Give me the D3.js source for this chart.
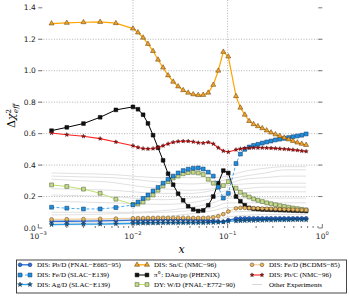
<!DOCTYPE html>
<html>
<head>
<meta charset="utf-8">
<title>delta chi2</title>
<script src="https://d3js.org/d3.v7.min.js"></script>
<style>
  body { margin: 0; background: #fff; }
</style>
</head>
<body>
<div id="my_dataviz"></div>
<script>

// x grid shared by all the experiment curves
var xGrid = [0.00138, 0.002, 0.003, 0.0045, 0.0066,
  0.0100, 0.0113, 0.0128, 0.0144, 0.0163, 0.0184, 0.0208, 0.0235, 0.0266, 0.0300,
  0.0339, 0.0383, 0.0433, 0.0489, 0.0552, 0.0624, 0.0705, 0.0796, 0.0900, 0.1016,
  0.1226, 0.1364, 0.1518, 0.1688, 0.1878, 0.2089, 0.2324, 0.2586, 0.2876, 0.320,
  0.356, 0.396, 0.441, 0.490, 0.545, 0.607, 0.675];

var snC = [1.300, 1.304, 1.308, 1.310, 1.302,
  1.268, 1.243, 1.210, 1.170, 1.125, 1.070, 1.020, 0.970, 0.930, 0.900,
  0.876, 0.860, 0.850, 0.845, 0.846, 0.860, 0.910, 1.000, 1.120, 1.090,
  0.838, 0.765, 0.720, 0.680, 0.660, 0.647, 0.634, 0.620, 0.607, 0.595,
  0.585, 0.574, 0.563, 0.553, 0.543, 0.535, 0.528];

var phenix = [0.619, 0.640, 0.664, 0.704, 0.751,
  0.770, 0.755, 0.720, 0.665, 0.590, 0.510, 0.430, 0.345, 0.275, 0.218,
  0.176, 0.138, 0.118, 0.108, 0.112, 0.145, 0.200, 0.285, 0.365, 0.350,
  0.200, 0.170, 0.145, 0.128, 0.122, 0.120, 0.118, 0.117, 0.116, 0.115,
  0.114, 0.113, 0.112, 0.111, 0.110, 0.109, 0.108];

var dyWD = [0.274, 0.264, 0.247, 0.221, 0.183,
  0.150, 0.152, 0.165, 0.190, 0.210, 0.240, 0.268, 0.295, 0.318, 0.330,
  0.345, 0.352, 0.354, 0.350, 0.340, 0.310, 0.285, 0.260, 0.270, 0.295,
  0.253, 0.227, 0.210, 0.197, 0.185, 0.176, 0.168, 0.160, 0.154, 0.148,
  0.142, 0.137, 0.132, 0.127, 0.123, 0.119, 0.115];

var feSlac = [0.132, 0.126, 0.121, 0.121, 0.130,
  0.147, 0.165, 0.188, 0.210, 0.235, 0.258, 0.285, 0.310, 0.330, 0.350,
  0.365, 0.374, 0.380, 0.382, 0.375, 0.355, 0.330, 0.260, 0.190, 0.220,
  0.410, 0.470, 0.500, 0.515, 0.525, 0.532, 0.540, 0.547, 0.553, 0.560,
  0.565, 0.570, 0.575, 0.580, 0.585, 0.590, 0.598];

var pbC = [0.604, 0.593, 0.583, 0.568, 0.547,
  0.523, 0.512, 0.505, 0.503, 0.505, 0.512, 0.523, 0.535, 0.545, 0.550,
  0.552, 0.552, 0.548, 0.542, 0.540, 0.545, 0.535, 0.510, 0.490, 0.483,
  0.498, 0.503, 0.507, 0.509, 0.510, 0.510, 0.510, 0.509, 0.508, 0.506,
  0.504, 0.502, 0.500, 0.497, 0.494, 0.490, 0.487];

var pbD = [0.042, 0.043, 0.044, 0.045, 0.047,
  0.050, 0.050, 0.051, 0.051, 0.052, 0.052, 0.053, 0.053, 0.053, 0.053,
  0.053, 0.052, 0.052, 0.051, 0.050, 0.048, 0.045, 0.042, 0.040, 0.050,
  0.060, 0.061, 0.062, 0.062, 0.062, 0.062, 0.062, 0.062, 0.062, 0.062,
  0.062, 0.062, 0.062, 0.062, 0.062, 0.062, 0.062];

var feBcdms = [0.055, 0.056, 0.057, 0.058, 0.060,
  0.062, 0.063, 0.063, 0.064, 0.064, 0.065, 0.065, 0.065, 0.065, 0.065,
  0.065, 0.065, 0.064, 0.064, 0.064, 0.065, 0.068, 0.075, 0.088, 0.105,
  0.125, 0.128, 0.128, 0.127, 0.126, 0.125, 0.124, 0.123, 0.122, 0.121,
  0.120, 0.119, 0.118, 0.117, 0.116, 0.115, 0.115];

var agD = [0.022, 0.023, 0.024, 0.025, 0.027,
  0.030, 0.030, 0.031, 0.031, 0.032, 0.032, 0.033, 0.033, 0.033, 0.033,
  0.033, 0.033, 0.033, 0.033, 0.033, 0.034, 0.035, 0.036, 0.038, 0.042,
  0.045, 0.046, 0.047, 0.048, 0.048, 0.049, 0.049, 0.050, 0.050, 0.050,
  0.051, 0.051, 0.051, 0.052, 0.052, 0.052, 0.052];

// the grey "other experiments" curves, on a coarser grid
var grayX = [0.00138, 0.003, 0.006, 0.01, 0.02, 0.04, 0.07, 0.1, 0.15, 0.25, 0.4, 0.675];
var grayCurves = [
  [0.350, 0.345, 0.340, 0.330, 0.320, 0.320, 0.320, 0.330, 0.360, 0.380, 0.390, 0.390],
  [0.330, 0.325, 0.320, 0.310, 0.290, 0.280, 0.290, 0.310, 0.330, 0.350, 0.370, 0.370],
  [0.310, 0.300, 0.290, 0.270, 0.250, 0.240, 0.250, 0.280, 0.310, 0.320, 0.330, 0.330],
  [0.250, 0.245, 0.240, 0.230, 0.220, 0.220, 0.240, 0.270, 0.280, 0.285, 0.285, 0.285],
  [0.210, 0.205, 0.200, 0.190, 0.180, 0.190, 0.210, 0.240, 0.250, 0.260, 0.260, 0.260],
  [0.170, 0.165, 0.160, 0.155, 0.150, 0.160, 0.190, 0.220, 0.225, 0.230, 0.230, 0.230],
  [0.100, 0.100, 0.100, 0.100, 0.110, 0.130, 0.160, 0.190, 0.190, 0.190, 0.190, 0.190],
  [0.083, 0.085, 0.090, 0.095, 0.100, 0.110, 0.130, 0.160, 0.160, 0.160, 0.160, 0.160],
  [0.050, 0.052, 0.055, 0.060, 0.070, 0.090, 0.110, 0.130, 0.130, 0.128, 0.127, 0.126],
  [0.035, 0.036, 0.038, 0.040, 0.050, 0.060, 0.080, 0.100, 0.105, 0.105, 0.104, 0.104],
  [0.030, 0.030, 0.030, 0.032, 0.035, 0.040, 0.050, 0.070, 0.080, 0.085, 0.085, 0.085],
  [0.020, 0.020, 0.021, 0.022, 0.025, 0.030, 0.035, 0.045, 0.050, 0.050, 0.050, 0.050]
];

var yTicks = [0.0, 0.2, 0.4, 0.6, 0.8, 1.0, 1.2, 1.4];
var xTicks = [1e-3, 1e-2, 1e-1, 1];
var xTickExp = ["\u22123", "\u22122", "\u22121", "0"];

var width = 349, height = 298;

var svg = d3.select("#my_dataviz")
  .append("svg")
    .attr("width", width)
    .attr("height", height);

var x = d3.scaleLog().domain([1e-3, 1]).range([38.3, 322.3]);
var y = d3.scaleLinear().domain([0, 1.4]).range([228, 7.8]);

var left = x.range()[0], right = x.range()[1], bottom = y.range()[0], top = y.range()[1];

// dotted grid
svg.selectAll(".gx").data([1e-2, 1e-1]).enter().append("line")
  .attr("x1", function(d) { return x(d); }).attr("x2", function(d) { return x(d); })
  .attr("y1", top).attr("y2", bottom)
  .attr("stroke", "#aaa").attr("stroke-width", 0.9).attr("stroke-dasharray", "1,1.6");
svg.selectAll(".gy").data(yTicks.slice(1, -1)).enter().append("line")
  .attr("x1", left).attr("x2", right)
  .attr("y1", function(d) { return y(d); }).attr("y2", function(d) { return y(d); })
  .attr("stroke", "#aaa").attr("stroke-width", 0.9).attr("stroke-dasharray", "1,1.6");

var plot = svg.append("g");

// other experiments
var grayLine = d3.line()
  .x(function(d, i) { return x(grayX[i]); })
  .y(function(d) { return y(d); })
  .curve(d3.curveMonotoneX);
plot.selectAll(".gray").data(grayCurves).enter().append("path")
  .attr("d", grayLine)
  .attr("fill", "none")
  .attr("stroke", "#d8d8d8")
  .attr("stroke-width", 0.8);

var series = [
  {name: "DIS: Pb/D (FNAL\u2212E665\u221295)", vals: pbD, sym: d3.symbolCircle, size: 11, fill: "#2a6fd6", edge: "#0a2560", line: "#2a6fd6", lw: 1.3, dash: null},
  {name: "DIS: Fe/D (SLAC\u2212E139)", vals: feSlac, sym: d3.symbolSquare, size: 15, fill: "#1e8fe0", edge: "#0a3560", line: "#4aa8f0", lw: 1, dash: "3,2"},
  {name: "DIS: Ag/D (SLAC\u2212E139)", vals: agD, sym: d3.symbolStar, size: 7, fill: "#1a5a8a", edge: "#0a3050", line: "#2aa0e8", lw: 1.3, dash: null},
  {name: "DIS: Sn/C (NMC\u221296)", vals: snC, sym: d3.symbolTriangle, size: 11, fill: "#f0a030", edge: "#5a3a00", line: "#ffa500", lw: 1.2, dash: null},
  {name: "\u03c0\u2070 :  DAu/pp (PHENIX)", vals: phenix, sym: d3.symbolSquare, size: 14, fill: "#111", edge: "#000", line: "#000", lw: 1, dash: null},
  {name: "DY: W/D (FNAL\u2212E772\u221290)", vals: dyWD, sym: d3.symbolSquare, size: 15, fill: "#c5d98a", edge: "#4a5a30", line: "#c0e070", lw: 1, dash: null},
  {name: "DIS: Fe/D (BCDMS\u221285)", vals: feBcdms, sym: d3.symbolCircle, size: 11, fill: "#e8b860", edge: "#5a4020", line: "#f0c88a", lw: 1, dash: null},
  {name: "DIS: Pb/C (NMC\u221296)", vals: pbC, sym: d3.symbolStar, size: 5, fill: "#8b1a1a", edge: "#5a0a0a", line: "#ff2020", lw: 1.1, dash: null}
];

var line = d3.line()
  .x(function(d, i) { return x(xGrid[i]); })
  .y(function(d) { return y(d); });

// draw order: low curves first so the big ones sit on top
var drawOrder = [4, 5, 1, 0, 2, 6, 7, 3];
drawOrder.forEach(function(k) {
  var s = series[k];
  var g = plot.append("g");
  g.append("path")
    .attr("d", line(s.vals))
    .attr("fill", "none")
    .attr("stroke", s.line)
    .attr("stroke-width", s.lw)
    .attr("stroke-dasharray", s.dash);
  g.selectAll("path.m").data(s.vals).enter().append("path")
    .attr("class", "m")
    .attr("transform", function(d, i) { return "translate(" + x(xGrid[i]) + "," + y(d) + ")"; })
    .attr("d", d3.symbol().type(s.sym).size(s.size))
    .attr("fill", s.fill)
    .attr("stroke", s.edge)
    .attr("stroke-width", 0.5);
});

// frame
svg.append("rect")
  .attr("x", left).attr("y", top)
  .attr("width", right - left).attr("height", bottom - top)
  .attr("fill", "none").attr("stroke", "#555").attr("stroke-width", 1.3);

// ticks (inside, matplotlib style)
var minor = [];
[1e-3, 1e-2, 1e-1].forEach(function(d) {
  for (var m = 2; m <= 9; m++) minor.push(d * m);
});
var tk = svg.append("g").attr("stroke", "#555").attr("stroke-width", 0.8);
xTicks.forEach(function(d) {
  tk.append("line").attr("x1", x(d)).attr("x2", x(d)).attr("y1", bottom).attr("y2", bottom - 4);
  tk.append("line").attr("x1", x(d)).attr("x2", x(d)).attr("y1", top).attr("y2", top + 4);
});
minor.forEach(function(d) {
  tk.append("line").attr("x1", x(d)).attr("x2", x(d)).attr("y1", bottom).attr("y2", bottom - 2);
  tk.append("line").attr("x1", x(d)).attr("x2", x(d)).attr("y1", top).attr("y2", top + 2);
});
yTicks.forEach(function(d) {
  tk.append("line").attr("x1", left).attr("x2", left + 4).attr("y1", y(d)).attr("y2", y(d));
  tk.append("line").attr("x1", right).attr("x2", right - 4).attr("y1", y(d)).attr("y2", y(d));
});

// tick labels
svg.selectAll(".yl").data(yTicks).enter().append("text")
  .attr("x", left - 2.5)
  .attr("y", function(d) { return y(d); })
  .attr("dy", "0.35em")
  .attr("text-anchor", "end")
  .style("font-family", "DejaVu Sans")
  .style("font-size", "7.5px")
  .attr("fill", "#222")
  .text(function(d) { return d3.format(".1f")(d); });

xTicks.forEach(function(d, i) {
  var t = svg.append("text")
    .attr("x", x(d))
    .attr("y", 238.5)
    .attr("text-anchor", "middle")
    .style("font-family", "DejaVu Sans")
    .style("font-size", "7.5px")
    .attr("fill", "#222");
  t.append("tspan").text("10");
  t.append("tspan").attr("dy", -3.5).style("font-size", "5.2px").text(xTickExp[i]);
});

// axis titles
svg.append("text")
  .attr("x", 181.5).attr("y", 253)
  .attr("text-anchor", "middle")
  .style("font-family", "DejaVu Serif")
  .style("font-style", "italic")
  .style("font-size", "11px")
  .text("x");

var yl = svg.append("text")
  .attr("transform", "translate(15,116) rotate(-90)")
  .attr("text-anchor", "middle")
  .style("font-family", "DejaVu Serif")
  .style("font-size", "11px");
yl.append("tspan").text("\u0394");
yl.append("tspan").style("font-style", "italic").text("\u03c7");
yl.append("tspan").attr("dy", -4.5).style("font-size", "7px").text("2");
yl.append("tspan").attr("dx", -4).attr("dy", 7.5).style("font-size", "7px").style("font-style", "italic").text("eff");

// legend
var legend = svg.append("g");
legend.append("rect")
  .attr("x", 16.5).attr("y", 260)
  .attr("width", 330).attr("height", 33)
  .attr("fill", "#fff").attr("stroke", "#333").attr("stroke-width", 0.9);

var colX = [20, 137, 252];
var rowY = [264.8, 275, 284.5];
var legendSlots = [0, 1, 2, 3, 4, 5, 6, 7];
legendSlots.forEach(function(k, i) {
  var s = series[k];
  var cx = colX[Math.floor(i / 3)], cy = rowY[i % 3];
  legend.append("line")
    .attr("x1", cx).attr("x2", cx + 10).attr("y1", cy).attr("y2", cy)
    .attr("stroke", s.line).attr("stroke-width", s.lw)
    .attr("stroke-dasharray", s.dash);
  [cx, cx + 10].forEach(function(px) {
    legend.append("path")
      .attr("transform", "translate(" + px + "," + cy + ")")
      .attr("d", d3.symbol().type(s.sym).size(s.size))
      .attr("fill", s.fill).attr("stroke", s.edge).attr("stroke-width", 0.5);
  });
  legend.append("text")
    .attr("x", cx + 17).attr("y", cy).attr("dy", "0.33em")
    .style("font-family", "Liberation Serif")
    .style("font-size", "7px")
    .text(s.name);
});
// other experiments entry
legend.append("line")
  .attr("x1", colX[2]).attr("x2", colX[2] + 10).attr("y1", rowY[2]).attr("y2", rowY[2])
  .attr("stroke", "#d8d8d8").attr("stroke-width", 1);
legend.append("text")
  .attr("x", colX[2] + 17).attr("y", rowY[2]).attr("dy", "0.33em")
  .style("font-family", "Liberation Serif")
  .style("font-size", "7px")
  .text("Other Experiments");

</script>
</body>
</html>
